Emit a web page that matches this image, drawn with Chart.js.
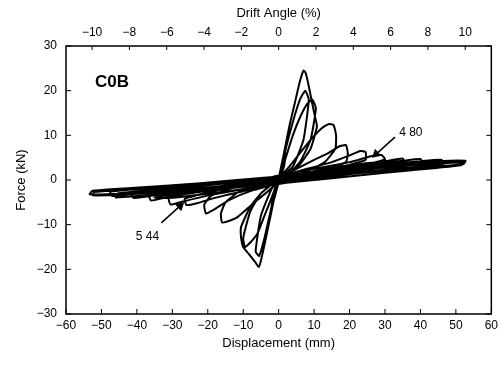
<!DOCTYPE html>
<html>
<head>
<meta charset="utf-8">
<script src="https://cdn.jsdelivr.net/npm/chart.js@4.4.0/dist/chart.umd.min.js"></script>
<style>
body{margin:0;background:#fff}
#c{display:block}
</style>
</head>
<body>
<canvas id="c" width="502" height="367"></canvas>
<script>
// hysteresis trace (mm, kN)
const displacement=[
0,1,2,1.5,0,-1,-2,-1.5,0,
1.5,3,4.5,5.8,7,7.6,8.5,9.5,10.3,10.8,9,6,3,0.5,-0.5,-1.5,-2.8,-4,-5,-5.6,-6.5,-8.5,-10,-10.6,-10.6,-8,-5,-2,0,
2,4,6,7.5,8.5,7,4,0,-2,-4,-5.5,-6.5,-5,-2,0,
2,4,6,8,9.5,10.5,9,6,3,0,-2,-4,-6,-8,-9.5,-10,-8,-5,-2,0,
3,6,9,12,14,15.5,16.2,16,13,8,3,0,-3,-6,-9,-12,-14.5,-16,-16.3,-15,-11,-6,0,
5,10,14,17,19,19.5,19,14,8,0,-8,-14,-18,-20.5,-21,-19,-12,-5,0,
8,15,20,23,24.5,24.5,18,10,0,-10,-18,-23,-26,-26.5,-20,-10,0,
10,20,26,29,30,22,10,0,-10,-20,-27,-30.5,-31,-20,-10,0,
15,30,34.5,15,0,-15,-30,-35,-15,0,
15,30,35,35.5,20,0,-15,-30,-36,-36.5,-20,0,
20,35,40,40.5,25,0,-20,-35,-41,-41.5,-25,0,
20,35,45,44.5,20,0,-20,-40,-46,-45.5,-20,0,
20,40,46,46.5,30,0,-25,-40,-47,-47.5,-30,0,
20,40,52,51.5,30,0,-25,-45,-52.5,-52,-30,0,
25,45,52.7,52,30,0,-25,-45,-53.3,-52.5,-30,0,25,50,52.7
];
const force=[
0,4,6,3,-0.5,-3.5,-6,-3,0.5,
6,12,17,21.5,24.5,24,21,17,14,12,7,3.5,1.5,0,-1,-5,-10,-14.5,-18,-19.5,-18.5,-16.5,-15,-13,-10.5,-6,-3,-1,0,
7,13,18,20,18,9,3,0,-6,-13,-17,-16,-8,-2,0,
5,10,14,17,18,16,9,4,1.5,0,-4,-8,-12,-14,-15,-13,-7,-3,-1,0.5,
3,6,9,11.5,12.5,12.3,10,7,4,2,0.5,-0.5,-2.5,-4.5,-6.5,-8.5,-9.3,-9.5,-7.5,-5,-2.5,-1,0.5,
2.5,4.5,6,7.5,7.8,6,4,2.5,1,-0.8,-2.5,-4.5,-6.5,-7.5,-5.5,-3.5,-1.5,0,0.8,
2.5,4,5.5,6.5,6.3,4.5,3,1.5,-0.8,-2.5,-4,-5.2,-5.6,-4.2,-2.8,-1,1,
2.5,4,5.3,5.6,4.6,3,1.5,-0.6,-2,-3.5,-4.8,-5.5,-4,-2.2,-0.8,0.8,
2.3,3.6,3.5,1.0,-0.9,-2.6,-4.0,-3.9,-1.2,0.3,
2.8,4.2,4.8,3.8,2,0,-1.8,-3.6,-4.6,-3.5,-1.8,0.5,
3,4.3,4.7,3.6,2.4,0,-2,-3.4,-4,-3,-1.6,0.6,
2.0,3.2,3.9,3.1,1.3,-0.6,-2.4,-3.6,-3.9,-3.0,-1.0,0.5,
2.8,4.2,4.5,3.5,2.3,-0.2,-2,-3,-3.6,-2.6,-1.3,0.8,
2.2,3.4,4.0,3.3,1.6,-0.8,-2.4,-3.3,-3.4,-2.7,-1.6,0.2,
3,4.2,4.3,3.5,2.1,-0.3,-2,-3.1,-3.2,-2.4,-1.2,0.6,2.8,4.0,4.2
];
const arrowDisp480=[32.8,27.5], arrowForce480=[9.6,5.8];
const arrowDisp544=[-33.1,-27.8], arrowForce544=[-9.6,-5.8];
const driftTicks=[-10,-8,-6,-4,-2,0,2,4,6,8,10];
const driftRange=11.4;
const notes=[
{text:'C0B',x:-47,y:21.9,font:'bold 17px "Liberation Sans"'},
{text:'4 80',x:37.3,y:10.7,font:'12px "Liberation Sans"'},
{text:'5 44',x:-37,y:-12.8,font:'12px "Liberation Sans"'}
];

const minus=v=>String(v).replace('-','\u2212');
const tickFont={family:'"Liberation Sans", Arial, sans-serif',size:12};
const titleFont={family:'"Liberation Sans", Arial, sans-serif',size:13};

const frame={
id:'frame',
afterDraw(chart){
const {ctx,chartArea:a,scales}=chart;
ctx.save();
ctx.strokeStyle='#000';
ctx.lineWidth=1.5;
ctx.strokeRect(a.left,a.top,a.width,a.height);
ctx.lineWidth=1;
ctx.beginPath();
scales.y.ticks.forEach(t=>{
const p=scales.y.getPixelForValue(t.value);
ctx.moveTo(a.left,p);ctx.lineTo(a.left+5,p);
ctx.moveTo(a.right,p);ctx.lineTo(a.right-5,p);
});
scales.x.ticks.forEach(t=>{
const p=scales.x.getPixelForValue(t.value);
ctx.moveTo(p,a.bottom);ctx.lineTo(p,a.bottom-5);
});
scales.x2.ticks.forEach(t=>{
const p=scales.x2.getPixelForValue(t.value);
ctx.moveTo(p,a.top);ctx.lineTo(p,a.top+4);
});
ctx.stroke();
ctx.fillStyle='#000';
ctx.textAlign='center';
ctx.textBaseline='middle';
notes.forEach(n=>{
ctx.font=n.font;
ctx.fillText(n.text,scales.x.getPixelForValue(n.x),scales.y.getPixelForValue(n.y));
});
ctx.restore();
}
};

const arrow=(xs,ys,rot)=>({
data:xs.map((x,i)=>({x,y:ys[i]})),
showLine:true,borderColor:'#000',backgroundColor:'#000',borderWidth:1.5,
pointRadius:[0,4],pointStyle:'triangle',rotation:rot,xAxisID:'x',yAxisID:'y'
});

new Chart(document.getElementById('c'),{
type:'scatter',
data:{datasets:[
{data:displacement.map((x,i)=>({x,y:force[i]})),showLine:true,borderColor:'#000',borderWidth:2,
borderJoinStyle:'round',pointRadius:0,tension:0.15,xAxisID:'x',yAxisID:'y'},
arrow(arrowDisp480,arrowForce480,228),
arrow(arrowDisp544,arrowForce544,48)
]},
options:{
responsive:false,animation:false,
layout:{padding:{left:0,right:8,top:0,bottom:0}},
plugins:{legend:{display:false},tooltip:{enabled:false}},
scales:{
x:{type:'linear',position:'bottom',min:-60,max:60,
afterFit:s=>{s.height=53},
ticks:{stepSize:10,color:'#000',font:tickFont,padding:4,maxRotation:0,callback:minus},
grid:{drawOnChartArea:false,drawTicks:false},border:{display:false},
title:{display:true,text:'Displacement (mm)',color:'#000',font:titleFont,padding:{top:0,bottom:16}}},
x2:{type:'linear',position:'top',min:-driftRange,max:driftRange,
afterFit:s=>{s.height=46},
afterBuildTicks:s=>{s.ticks=driftTicks.map(v=>({value:v}))},
ticks:{color:'#000',font:tickFont,padding:6,maxRotation:0,autoSkip:false,callback:minus},
grid:{drawOnChartArea:false,drawTicks:false},border:{display:false},
title:{display:true,text:'Drift Angle (%)',color:'#000',font:titleFont,padding:{top:6,bottom:0}}},
y:{type:'linear',position:'left',min:-30,max:30,
afterFit:s=>{s.width=66},
ticks:{stepSize:10,color:'#000',font:tickFont,padding:9,callback:minus},
grid:{drawOnChartArea:false,drawTicks:false},border:{display:false},
title:{display:true,text:'Force (kN)',color:'#000',font:titleFont,padding:{top:14,bottom:0}}}
}
},
plugins:[frame]
});
</script>
</body>
</html>
